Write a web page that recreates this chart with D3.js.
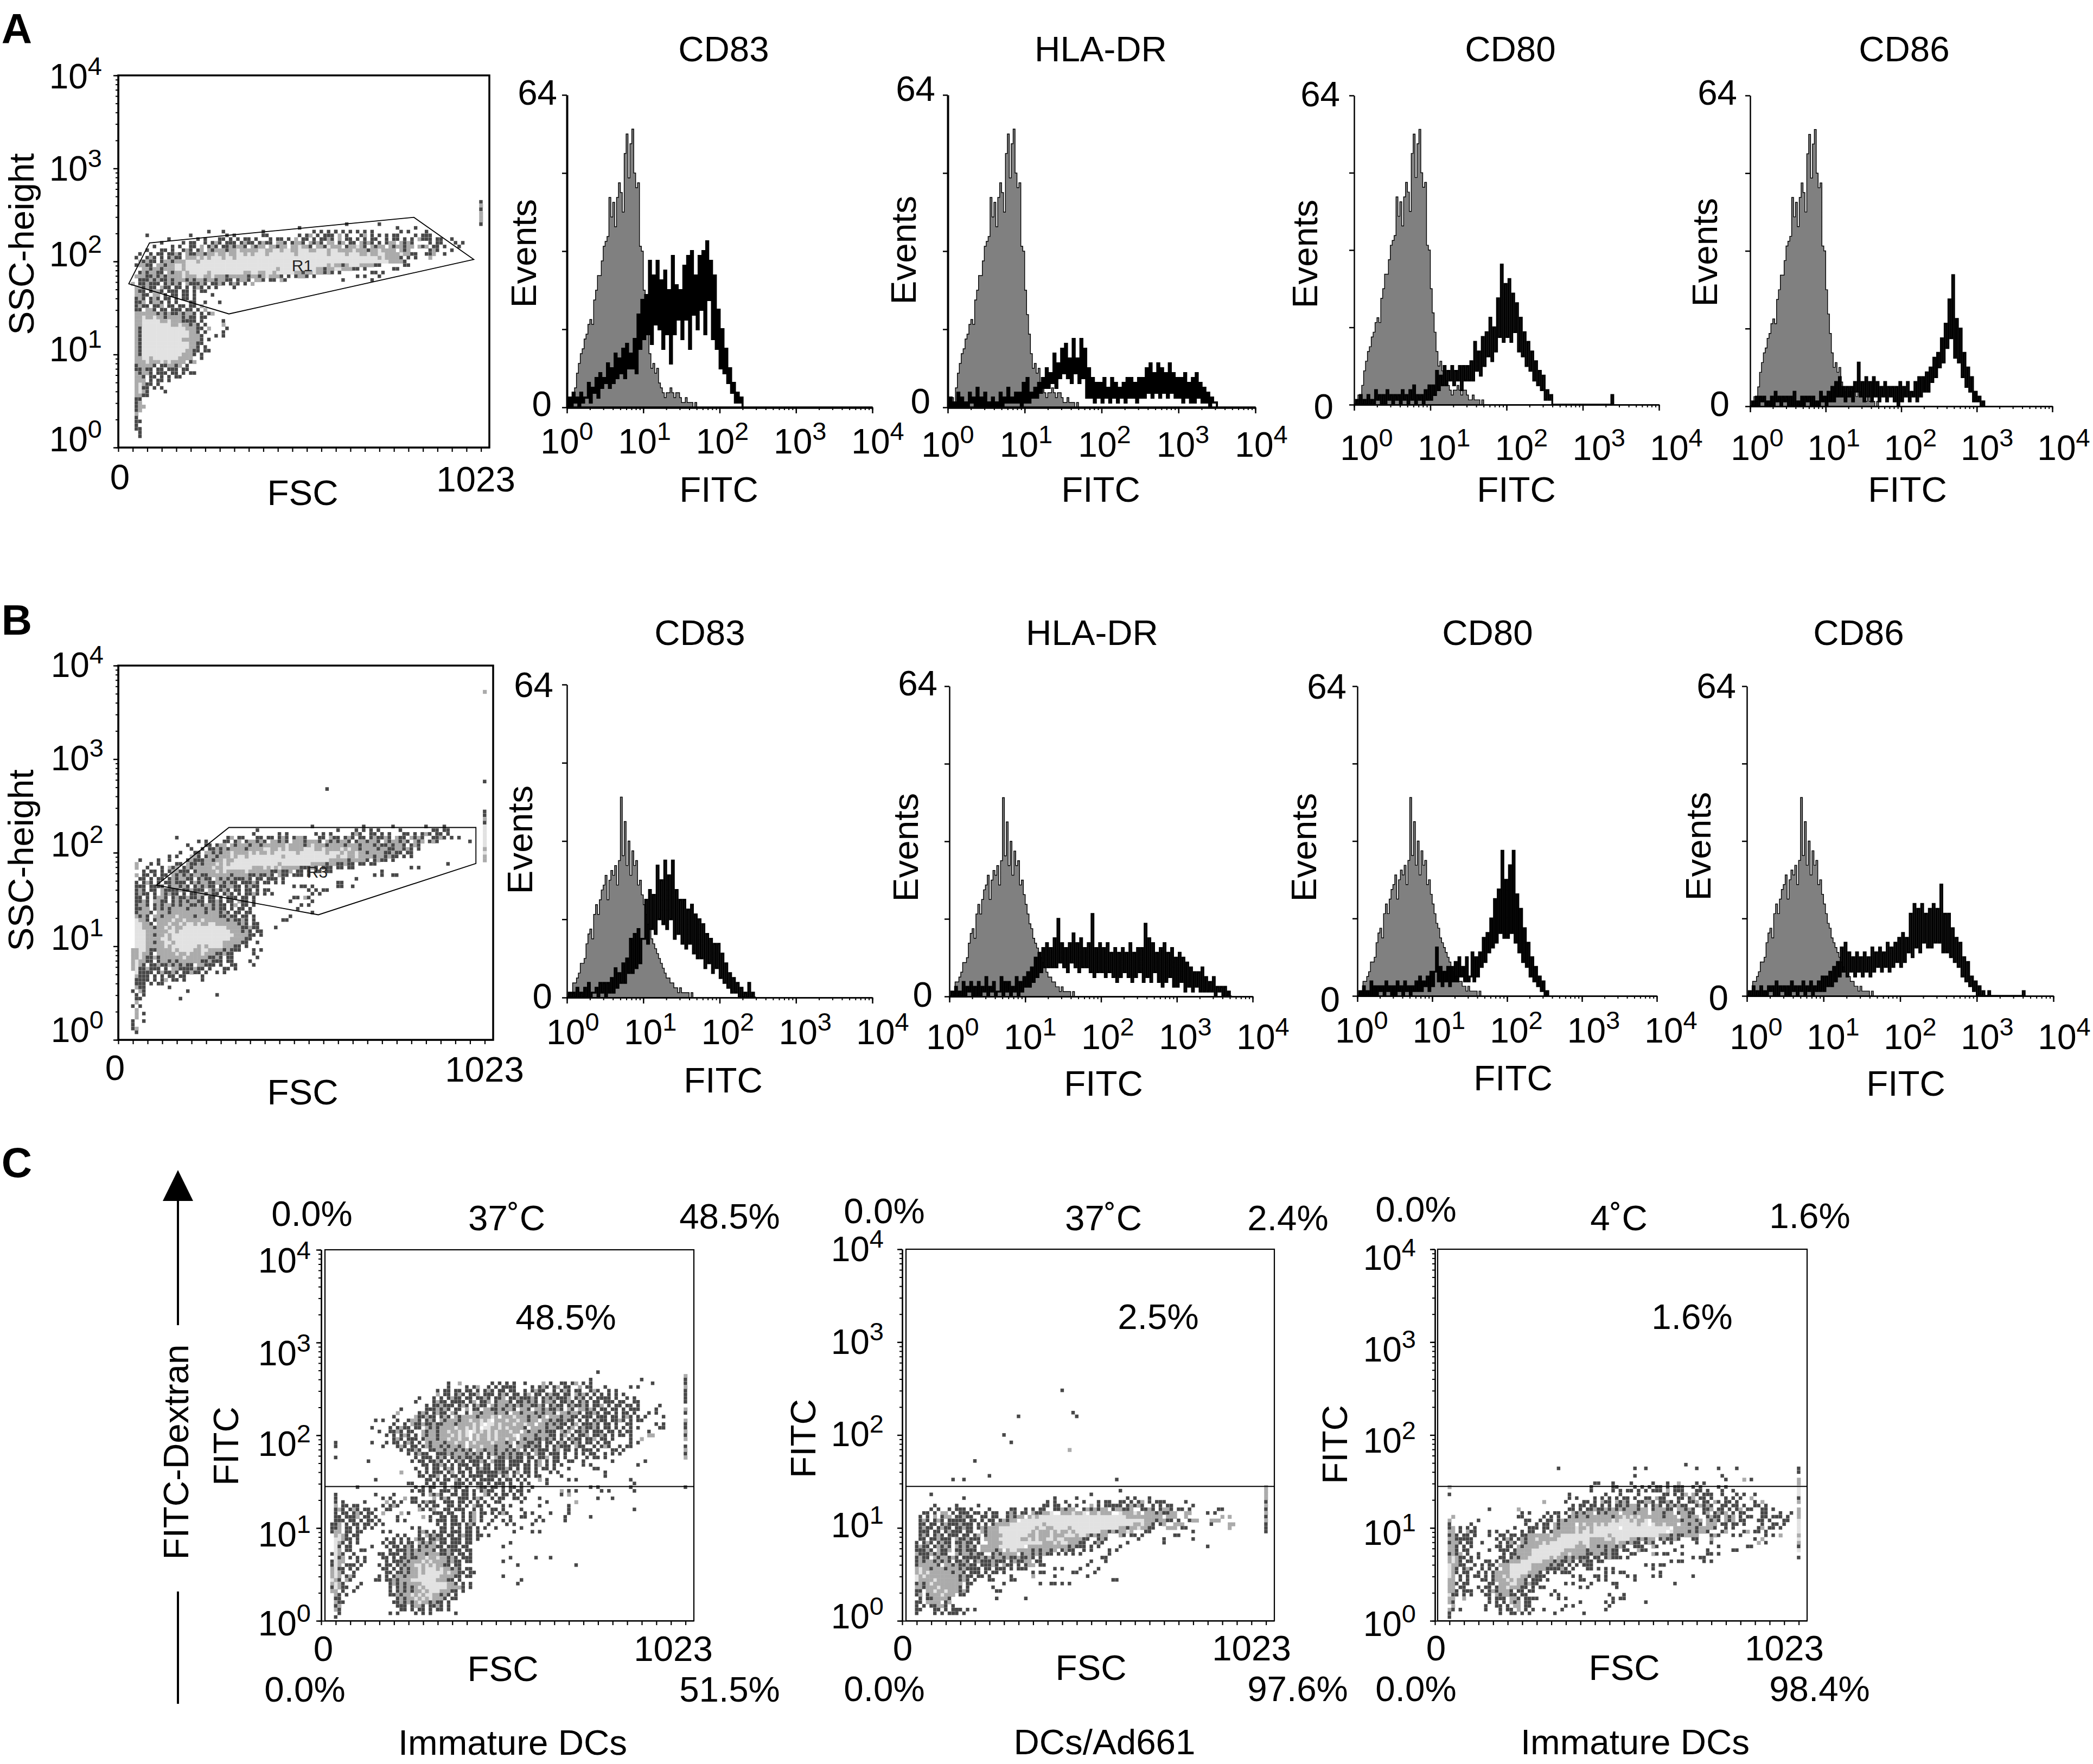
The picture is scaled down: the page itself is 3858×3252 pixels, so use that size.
<!DOCTYPE html>
<html><head><meta charset="utf-8">
<script src="https://cdn.jsdelivr.net/npm/d3@7"></script>
<style>html,body{margin:0;background:#fff}svg{display:block}text{font-family:"Liberation Sans",Arial,sans-serif;fill:#000}</style>
</head><body><svg id="c" width="3858" height="3252"></svg>
<script>
// Histogram channels: one value per 1/40 of a decade, event counts 0-64
const grayA=[0,1,2,1,4,7,9,11,12,14,15,17,18,17,22,24,27,27,30,33,34,35,43,39,42,37,43,46,44,40,52,56,47,54,57,48,45,46,33,32,24,19,15,11,8,9,7,8,5,4,3,2,3,3,4,3,2,3,3,2,1,1,2,1,1,1,0,1,0];
const grayB=[0,1,1,3,3,4,5,7,7,8,11,13,14,12,17,19,17,20,22,23,25,20,24,26,25,27,23,28,41,29,36,27,32,25,30,27,28,23,24,21,19,17,15,14,12,11,10,9,8,7,6,5,4,4,3,3,2,2,1,2,1,1,1,1,0,1,0];
const blackA83=[0,2,0,3,1,2,0,3,1,2,2,5,1,4,3,6,2,7,4,6,5,9,4,8,5,11,6,10,7,12,6,13,8,11,8,14,7,19,12,22,14,23,15,30,13,27,17,30,16,26,12,28,15,24,9,31,15,25,18,24,14,29,18,31,12,32,19,27,16,31,20,32,15,34,22,30,14,27,12,20,8,16,7,12,5,8,3,5,1,3,1,2,0];
const blackADR=[0,2,0,1,0,3,0,2,0,1,0,3,1,2,0,4,0,2,0,3,0,1,0,2,0,1,0,3,0,2,1,4,1,2,1,3,1,3,0,5,1,6,1,3,2,4,2,5,3,6,4,8,4,7,5,11,4,9,6,12,7,13,6,10,5,14,7,10,5,14,6,12,2,8,2,6,1,5,2,5,1,6,2,4,1,6,2,5,1,4,2,5,1,6,2,6,2,5,1,6,2,6,2,8,3,9,2,7,3,9,2,8,3,7,2,9,3,7,2,6,2,6,1,7,2,5,1,6,1,7,2,5,1,4,1,3,0,2,1,1,0];
const blackA80=[0,1,0,2,0,1,0,2,0,1,0,3,1,2,0,2,0,3,1,2,0,2,1,2,0,3,1,2,0,3,1,4,0,2,1,2,0,3,1,4,1,4,2,7,3,6,4,8,4,7,5,8,4,7,5,8,3,8,5,8,5,9,5,13,7,11,6,14,8,15,10,18,9,16,11,22,14,29,13,25,14,26,13,23,15,21,11,18,10,15,8,13,7,11,5,9,4,7,3,6,1,3,1,2,0,0,0,0,0,0,0,0,0,0,0,0,0,0,0,0,0,0,0,0,0,0,0,0,0,0,0,0,0,0,0,2,0];
const blackA86=[0,1,0,2,0,2,1,2,0,1,0,2,0,3,1,2,0,2,1,2,0,2,0,3,0,1,0,2,0,2,1,2,0,2,0,1,0,3,1,2,0,3,1,4,1,5,2,6,2,4,1,4,2,4,1,5,3,9,2,5,1,6,2,5,1,6,2,5,1,4,2,5,1,4,2,4,1,4,0,5,1,4,2,5,1,3,2,5,1,6,2,6,3,7,3,8,5,10,6,11,8,14,9,17,12,22,14,27,10,18,9,16,6,11,4,8,3,6,1,3,1,2,0,1,0];
const blackB83=[0,1,0,1,0,2,0,1,0,2,0,3,0,1,1,2,0,3,1,3,0,3,1,4,1,6,2,5,3,7,3,8,5,12,5,13,6,14,7,12,12,20,11,22,14,21,13,27,16,24,15,28,14,25,16,28,12,22,13,20,11,20,10,18,11,19,9,17,8,16,8,15,6,13,7,12,5,11,6,11,4,9,3,7,2,5,1,4,1,3,0,2,0,1,0,3,0,1,0,0];
const blackBDR=[0,1,0,2,0,1,0,3,0,2,1,3,0,2,0,3,0,2,1,4,0,2,1,3,0,1,1,4,0,3,1,3,0,2,1,4,0,3,1,4,2,5,2,6,3,8,4,9,5,10,6,11,6,10,6,12,6,16,7,11,6,10,5,11,7,13,6,11,5,12,6,10,6,11,5,17,4,10,5,11,5,10,4,11,5,9,4,10,3,9,4,10,5,9,4,11,3,9,4,10,5,10,3,15,4,12,3,11,5,9,3,10,2,11,3,9,4,10,2,8,2,9,3,8,1,7,2,6,1,5,2,5,1,6,1,4,1,3,1,4,0,2,1,2,0,2,0,1,0,0];
const blackB80=[0,1,0,2,0,1,0,3,0,2,0,2,1,2,0,3,1,2,0,2,0,3,1,2,0,3,1,2,0,2,1,3,1,4,1,3,2,4,1,5,2,5,10,3,6,2,5,3,6,2,6,3,7,3,8,4,6,3,8,3,4,9,3,8,4,9,6,12,7,13,9,16,10,20,11,22,13,30,12,24,12,27,13,30,11,21,9,18,7,14,6,11,4,8,3,6,2,4,1,3,0,1,0];
const blackB86=[0,1,0,2,0,1,0,2,0,1,0,2,1,2,0,3,0,2,1,2,0,2,0,3,1,2,0,2,1,3,0,2,1,3,0,2,1,3,1,4,1,4,2,5,2,6,3,7,4,10,5,11,4,9,5,8,4,9,5,8,4,9,5,8,4,10,5,9,6,10,5,9,6,11,5,10,6,11,7,12,6,13,7,12,9,17,8,19,10,18,9,19,11,17,10,18,10,19,11,18,11,23,9,17,9,17,8,14,7,12,6,11,4,8,3,7,2,4,1,3,0,2,0,1,0,0,1,0,0,0,0,0,0,0,0,0,0,0,0,0,0,0,0,0,1,0];

// Dot plots read cell by cell: row number (1 row = 0.04 decade), then col:cells (1 col = 10 FSC channels). d dark, m mid, l light
const scatterA=["66 100:d","65 100:m","64 100:d","63 100:m","62 100:m","61 100:m","60 63:d 72:d 100:d","59 50:d 77:d 82:d",
"58 25:d 29:d 40:d 54:d.d.d.d 60:d.d 64:d.d.d 70:d 78:d.d 85:d",
"57 8:d 20:d 30:d.d 40:dd 50:d.dm.d.dd 59:d.m.d 67:dm.d.d 74:d.dd 82:d.d 85:dd",
"56 14:d 22:d.d 28:dd.d 33:d.dd.d 42:d.dd.d.m.dd.d.dd 57:dmd.m.dd.d.d.dd 74:d.dd.d 81:d.mddd.dd 92:d",
"55 12:d 18:d.dd 24:d.dmd.d 31:dd.dmdd.d 40:mdd.mmd.dmmd.mdmd.mm.dm.dd.mdmd.d.dmm.mdmd 86:d.dd 93:d.d",
"54 10:d 15:d.d 20:dd.m 25:dmd.dd 31:mdmmd.mdmm 42:mmdmm.mmlmmd.mmdlmmm.dmmlmd.mdmm.mdmmdmm.mdm.d 88:d.d 94:d",
"53 8:d 12:dd.d 18:dmd.dm 25:mdmmmdmmlmmm 37:mmllmmllmllmmlllmmlllmllmmmmlmmmdmmlmmmm.mdm 86:dmd 92:d",
"52 6:d 9:d.dd 14:ddmd.mdd 22:mmdmmlmmlmmllmlmlllmlllllllmllllllllmllllmlllmmlmmllmmmmlmmdd 85:ddm 90:d",
"51 5:d 8:dmd.d 14:dmdd.mmmlmlmlllmllmlllllllllllllllllllllllllllllllllllllllmlmmmmd.d.d 86:m",
"50 6:mdmdd.dmmdmmmlllmllllllllllllllllllllllllllllllllllllllllllllllllllllmmmmd",
"49 5:dmmdd.mmdmmllmlllllllllllllllllllllllllllllllllllllllmlmmdmlllmmmmdd 79:dd",
"48 7:mmdmmdmmmllmlllllllllllllllllllllllllmllllllllllmmdmmllmmmdd.d 76:dd",
"47 6:dmdmmdd.mdmmlmlllllmlllllllllmmllmmllmlllllmmdmmlmmdmd.d 70:dd.d",
"46 5:mmmddmdmdmmmmlmmmllmmlmmmdmmmmmdmmdmlmmmd.d.dmmd.d 66:d.d 72:d",
"45 6:dddmdmddmdmmmdmdmmdmmdmmdd.dmmd.mmd.dd.md 62:d 70:d",
"44 4:m.ddmddd.dmdmd.mdddmd.ddmd.dmd.d.m",
"43 5:mmdmdd.mdd.dd.d.dmd.d.d 32:d","42 5:mdd.dmmd.ddd.dd.d.dd","41 5:mmdd.mm.d.dd.dd.d 26:d","40 5:dmd.dmd.dd.d.dd.d",
"39 5:ddm.dmmd.d.d 20:dd 24:d 28:d","38 5:dmdd.ddm.dd.dd.dd.m","37 5:dd.mmd.dd.ddd.dd.d.m","36 5:mmmmmmdmdmddmdmmd.d.d 26:m",
"35 5:mmlmmlmmdmmmmdmdd.dd","34 5:mmlllllmmlmmmdddd.d 29:d","33 5:mmllllllllmmlmmdmd.d 29:m","32 5:mdllllllllllllmmmdd.m 30:d",
"31 5:mdlllllllllllllmmd.d 29:d","30 5:mdlllllllllllllmmmd 27:d.d","29 5:mdlllllllllllmmmmmd.d","28 5:mdlllllllllllllmmdd",
"27 5:mdlllllllllllllmmd 24:d","26 5:mdllllllllllllmmdd 24:dd","25 5:mdlllllllllllmmmd 23:d","24 5:mmllmlllllllmmmm 23:d",
"23 5:mmmlmmmlmlmmmm.dm","22 5:dmmmmd.ddmmdm.d","21 5:ddmdd.dd.ddd.dd","20 5:mdmmd.ddd.dd.d 20:dd","19 5:mmd.dd.d.d.dd","18 5:mmm.d.dd.d",
"17 5:mlmdd.d","16 5:mldd.d 12:d","15 5:mlmd 13:d","14 5:mmdd","13 5:dd","12 5:dm","11 5:dm 7:m","10 5:dm","9 5:m","8 5:d","7 5:dd","6 5:d","5 5:dd","4 6:d","3 6:d"];

const scatterB=["93 100:m","69 100:d","67 57:d","61 100:d","60 100:d","59 100:m","58 100:d","57 53:d 67:d 75:d 84:d 89:d 100:l",
"56 38:d 60:d 65:d.d 69:d.d 77:d 86:dd.d 90:d 100:l","55 37:d 44:d.d 54:d.d.d 64:dmd 69:dd.d.d 78:dd.d.dmd.dd.d 100:l",
"54 16:d 30:dm.dd 38:dd.dd.dmd.dmmd 55:dd.mdd 62:dmd.dd.dmd 72:dmd.mdd.mdmd 86:ddmd.d 93:d 100:l",
"53 22:d.d 29:dd.dm.dmmdmd.mmdmd.mmmdmmmd.mdmdmmd.dmmdmmd.mdmmdmd.mdm.dmd 96:d 100:l",
"52 19:d 24:dd.dmm.mdmmmdmmdmmmmmmlmmmmdmlmmmdmmmmdmmmdmmmdmddmdmmd.dmd 100:l",
"51 20:d 23:d.ddmdmdmmmmdmmmmllmmlmlmmmmlllmmlmmmmlmlmmdmmmmdmmddmmdmd.d 100:m",
"50 17:d 21:dd.mmdmdmmlmmmmlmlmmlmllllllmlllllllmlllmlmmlmmdmmmmddmdd.dd 100:l",
"49 14:d.d 20:mmd.dmmdmmmlmllmlllllllllmllllllllllllllmllmmlmmmmdmmdmdd.d.d 100:m",
"48 6:d 11:d 14:d 19:dmdddmmdmmlmmllllllllllllllllllllllllllmmmmmdmmmmd.dmdd.d 100:m",
"47 5:m 9:d.d 16:dd.mddmdmmmlmlmlllllllllllllmllllllllmmmmdmmddmdd.dd.dd 90:d",
"46 5:m 8:d 12:d.mdm.dmdmmmmmlmmllllllllmmmlmlmlmmmmmdddmd.ddd.dd.dd 80:d.d",
"45 7:d.dd.d.dmmddd.dmmmmmlmlmmmmmlmmmmmmddmddm.dd.d.dd.dd 72:d",
"44 5:m.dd.d.dd.mdmdmdmmddmmmmmmdmmmmddmddmd.mdd.ddd.d 70:d.d 75:dd","43 6:dd.d.dd.dmdmmdd.dmdd.mdmdmdddmd.dd.ddd.d 65:d",
"42 5:d.dmd.d.ddmddd.dmdmmddmmdmdd.dddmd.dd.d.d 60:dd","41 5:ddd.dddd.dmmdmd.dmdmdd.ddmmdd.dmdd 48:d.dd.d 60:dd 64:d",
"40 5:dmd.dd.mddddmddmddd.mdmdmd.dd.dd.d.dd 52:d.d.dd","39 5:dmdd.d.mdmdd.d.ddmmdmdd.dmd.d.ddmd.d.d 53:d.d",
"38 5:dd.d.dmmd.dmddmddmd.dd.d.ddd.dd.d 48:dd.md","37 5:ddmd.mmdd.dmdmdmmdd.ddmd.dd.mdd.d 47:d 53:d",
"36 5:dmmd.dmdmmdmdmmddmdmmdmdd.dm.dd.d 50:d.d","35 5:ddmm.dmdmdmmmmdmmmmdmdmdd.d.dd.d 49:d",
"34 5:dmmmd.mmmdmmmmmmmmmdmmmdmd.dd.dd 53:d","33 5:mdmd.mmdmmmlmmmmdmmmmmmddmdd.dd.d 47:d","32 5:lmmd.dmmmmlmmlmmmmlmmmmmmdmddmd.d 45:dd",
"31 5:llmmd.mmmlmmlmllmlmmllmmmmmmdmd.dd","30 5:llmmmdmmlmlmmllllllllllllmmmmddmdd 43:d","29 5:lllmmmmmmllmllllllllllllllmmmdmd.dd",
"28 5:lllmmdmmlmlllllllllllllllllmmmmdd.d","27 5:lllmmmmllmllllllllllllllllmmmmdd","26 5:lllmmdmmllmlllllllllllllmmmmmdd 38:d",
"25 5:lllmmmmmlmlllllllmlmllllmmmdd.d","24 4:mmllmddmmmmlmllllmmllmmmmdmddd 37:d.d","23 4:mmlmmd.mmmmmlmmlmmmlmmmddmdd 37:d",
"22 4:mmlmddmdmmmmmmlmmmmmmddmd.dd 38:d","21 4:mlmmdd.dmmdmdmmmmmmddmddd.dd 36:d","20 4:mlmd.ddmddmdmdmdd.mmddd.d 31:dd 37:d",
"19 4:mlddmddd.d.mmddddmdd.d 29:dd.d","18 5:ldddd.dmddmd.ddmdd.d 27:d.d","17 5:mddd.d.d.dd.dd 23:d","16 5:dddd.d.dm.dd.d 23:d",
"15 5:ddd.d.dd","14 5:mdd 14:d","13 4:d.md 19:d","12 5:d.d 27:d","11 5:dd 17:d","10 5:m","9 4:d 6:d","8 5:m","7 5:m 7:d","6 5:m","5 4:d 7:d","4 4:d","3 4:dm","2 5:d"];

const scatterC1=["67 76:d","66 100:m","65 74:d 88:d 100:d","64 35:d 38:m 47:d.d 51:d.d 56:d 61:m.d 66:dd.dm 72:d.d 91:d 100:d",
"63 35:d 40:d.dm 46:d.d.dd 52:dd 58:d.dmd 64:dm.dd 71:m.dd 78:d 85:d.d 100:m",
"62 32:d.dd.dd 40:dd.d.dmd.dd 50:d.dd 56:d.dmdd 64:d.dmd.d 71:d 74:dmd 79:d 81:d 100:d",
"61 32:m.dd 37:dmd.ddm.dd 47:d.dmd.dd 56:dm.dd.dmd 65:d.dd.mdm 73:d.d.d 79:d.d 83:d 100:d",
"60 27:d 31:d.d.dmdd.dd 43:ddmd.ddm.ddmdd 57:dmd.dmdmd 66:ddm.dmd.d.dd 78:dd.d 84:d.d 100:d",
"59 26:d 31:dmdd.dddd.dm 44:ddm.dmmmd.ddmd 58:md.dmmd.ddmd 71:dmd.dd.dd 80:d.dd 86:dd 100:d",
"58 29:d.ddmddd.dmd 42:dmdd.mdmmdmdm 55:dmmddmd.dmdd 68:dmddmd.ddm.d 81:dd.d 85:d.d 93:d",
"57 22:d 29:dddmdmd.dd.m 42:dd.mmddmdmmd 55:mmd.mmdmddmd 68:md.mmdmd.dd 80:dd.d.dd 87:d 92:d 100:m",
"56 21:m 27:dmd.dmdd.md 40:d.mmdmmmdmmd 53:mmdmmmdmdmmd 66:mmdmmd.ddmd 78:dd.d.dd.d 90:d.d 100:d",
"55 20:d 26:mddmdd.dmd 37:mdmmmmdmmmlm 50:mmmlmmmdmmdm 63:mmmdmmdd.ddd 76:ddd.dd.dmd 87:d.d 94:d",
"54 15:d.d 21:d 24:dmmd.dmd 33:mdmmmdmmlmmlml 48:mmmlmmlmmdmm 61:mmdmddmdd.d 73:d.dmdd.ddmd 85:d.dd 100:m",
"53 20:d 23:d.mddmdd 31:mddmmmdmmmmlml 46:llmlmmmlmmlmm 60:mmdmdmdd.dm 72:dddmd.dd.d 84:dd 92:d.d 100:d",
"52 14:d 19:d.dmdd.dd 29:mdmdmmmmlmmlmlm 45:llmmlmlmmmmd 58:mmmmdmmdd.dm 71:dmddmd.dd 81:d.d 85:d.d 93:dd 100:d",
"51 16:d 19:ddmd.dd 28:mdmmdmmlmmlml 42:lmlmlmlmmmlmm 56:mdmmdmddd 66:mdm.ddmd.ddd 79:dd.d.dd 90:d 100:m",
"50 18:d.d.dmd.d 28:mdmmdmmmlmlml 42:mlmmlmlmmmml 55:mmmmdmmmdd.dm 69:d.ddm.ddmd 80:d.dd 85:d 90:mm 100:d",
"49 20:dmd.ddd 28:dmmmdmmlmmlmm 42:mlmmlmlmmlmm 55:mdmmddmdmd 66:d.dmdd.ddm 77:dd.d 85:d 88:m 100:m",
"48 4:d 14:d 18:d.dd.dmd 27:d.mdmmmdmmlmm 41:mlmmmmlmmmdm 54:dmmddmd.dd 65:dmd.dmd.dd 76:d.dd 85:d.d",
"47 4:d 17:d 21:dmd.dd 28:dmdmmdmdmmdm 41:mmmlmmmdmmmd 54:mmddmdd 62:d.dmddd.mdd 75:d.dmd 82:d.dd 100:d",
"46 22:d.ddmd 30:ddmmdmmdmdmd 43:mmdmmdmmdmdm 56:d.dmddd.dm 67:dd.d.ddd 76:d 80:dd.d 100:m",
"45 24:d.dmdd 32:dddmdmmmdmdmd 46:dmdmdmdmddmd 59:mdd.ddd.d 70:d.d.dd 78:d.d.d 100:d",
"44 4:d 26:d.ddd.dmd 36:dmdmddmdd.d 48:mddmdmdd.dd 60:ddm.dd.d 70:d 73:d.dd.d 100:m",
"43 13:d 25:d.dd.ddmd 35:d.dmd.dddmd 47:mddd.dddd.d 59:dm.d.dd 68:dd 72:d 80:d 89:d",
"42 28:dd.ddmd 36:d.ddd.dd.dd 48:ddd.ddd.dd.dm 62:d.d.d 72:d.d 87:d",
"41 26:d 29:d.dd.dmd 38:d.dd.dmdd.dd 50:dmd.d.dd.d 61:dd.d 68:d 75:dd",
"40 22:m 27:d.d.ddd 35:dm.dd.d.dddd 47:ddmdd.dm 56:dd.d 63:d.d 78:d",
"39 27:dd.ddm.d 36:dd.d.dddd 46:ddd.dm.d.d 57:d.dd 66:d 78:d",
"38 15:d 29:dd.d.dd 37:md.d.d.dddd 49:d.dd 54:d.d 60:m.d 68:d.d 85:d",
"37 24:dd 29:d.d.dd 37:ddd.d.dd 46:d.ddd.d 55:d.d 62:d 86:d",
"36 10:d 26:d.d.dd 34:d.mdd.d 43:mdd.dd 50:d.dd.d 58:d 74:d.d 85:d 100:d",
"35 25:d.dd.d 33:ddd.d.dd 42:d.dmdd 50:d.d.dd 57:d 66:m.d 70:d 77:d.d 86:d",
"34 4:d 15:d 20:d 28:d.mdmd 36:dd.dd.d 45:md.d.dd 53:d.d 66:d.m",
"33 4:d 17:d.d 23:m.dd 31:m.dmd 38:ddd.dmd 47:d.dd 53:dd.d 60:d 76:d 80:d",
"32 4:d.d 12:d 18:m.d.d 25:dd.dmdd 34:ddd.dd 41:d.d.d 48:dd 55:d 62:d 70:m",
"31 4:m.dd.dd 17:d.dmd 27:d.d.dd 35:dd.d.d 42:mdd.d 50:d.d 60:d 68:d",
"30 4:dmd.dmd.dd.d 18:dd 27:md.dm 34:dd.ddd 42:d.d 47:dd.d 55:d 68:d 86:d",
"29 4:d.dd.dmd.dd 17:m 22:m.d 31:ddd.dd 39:d.dm.dd 47:d.dmd 56:d.d 63:d 68:d",
"28 4:dd.dddm.dd.d 21:d 28:m.d 33:dd.dd.d 41:dm.d 48:d 52:d 55:dd 60:d 67:d 74:d",
"27 4:ddd.dd.d.dd.d 21:d.d 30:d.ddd.dd 39:d.dm.d 47:d 50:d.d 59:d.d 67:d","26 3:ddm.d.dd.dd 15:d.d 32:d.d.ddd.dmd 46:d 51:d.d 58:d","25 3:ddm.dd.d.d 14:d 25:d.d 33:dd.d.d.dd.d.d 48:d 55:d",
"24 3:dmm.dd.dd 17:d.d 27:dmd.d.dd.ddd.dd.d 53:d 58:d.d","23 4:mlmd.dd 21:d.d 27:d.mdmdd.dd.dmdd.dd.d","22 4:llmdd.d 18:d.d 22:d.d.mdd.ddmdd.ddd.dd.d",
"21 4:lmd.d 10:d 17:d.dd 22:d.dd.mdmdm.dd.ddd.dd 52:d","20 4:ld.dd 14:d 18:d.dd 23:dmd.dmdmmdd.ddd.dd 50:d",
"19 4:lm.dd 11:dd 19:d.dddmdmdmmmd.ddmddd.dd","18 3:dlmd 9:d 16:dd.ddd.dmdmmmdmmmddmd.dd.d","17 4:ldm.d 10:d.d 17:dd.d.ddmddmmlmmlmmdmd.ddd 52:d 59:d 63:d",
"16 3:dlmm 10:d.d 18:d.dddmdmmmlmlmmmmdmdd.dd 50:d","15 3:dlm.dd 9:d.d 16:d.dd.dmdmmllmlmlmmdd.dd 54:d 70:d","14 3:mldd 8:d.d 17:dd.d.dmdmmlmlllmlmmdmd.dd",
"13 3:mlmd 9:d 18:dd.ddmdmmlmlllllmlmmdd.dd","12 3:mlm.dmd 16:d.d.dmmdmmmllllllmmmmdd.dd 50:d","11 3:lmd.md 15:dd.ddmdmmmlllllllmmmdd.d 55:d",
"10 3:mlmd 11:d 19:dmdmdmmmmlllllllmmd.d.d 54:d","9 3:dlmdd 10:d 19:d.dmdmdmlmllllllmmmmd.d","8 3:mm.d 9:d 19:d.dmdmdmmlmlllmmmdd.d","7 4:md.d 19:ddmdmmlmlmllmmdmd.d",
"6 4:dd 21:dmdmmlmlmlmmmd.dd","5 4:mdd 20:ddmdmdmlmmdmdd.d","4 4:dm 21:ddd.dmmd.ddmd.d","3 4:md 22:dd.d.dd.d.dd.d","2 5:d 19:d.d 26:d.d.d 37:d","1 4:d"];

const scatterC2=["62 44:d","56 47:d","55 32:d 48:d","50 28:d","48 30:d","46 46:m","43 20:d","39 24:d","38 14:d 17:d 59:d","36 100:m","35 60:d 100:m",
"34 8:d 52:d 100:m","33 17:d 42:d 48:d 62:d.d 68:d 100:m","32 40:d.d 45:d 50:d 54:d.dd 60:dd.d.dm.d.dd 72:d 78:d 100:d",
"31 9:d 15:d 21:d 39:dd.dd 46:d.d 52:m.d.ddddd.dmdmd 69:d.d 73:dd 80:d 100:m",
"30 8:d 10:d 13:d.dd 17:d.d 24:d 30:dd 34:d.d.dd 42:ddmdmm 50:dmdmdmm 58:dmmddm 66:ddmd.dmmd 76:dd.d 87:dd 100:d",
"29 6:dd.d.mm.d.d 17:dd.dd.d 25:dd 29:dmd.dd 36:mddmml 44:mmmlmml 52:mmlmmm 60:lmmmlm 67:mmmdmddmm 78:mm 84:d.d 100:m",
"28 5:d.d.m.dmm.d 16:dmdd 22:dd.dd 29:dmdmm 35:mlmlllll 43:llllllll 51:llllllll 59:lllmmmm 66:mmmmmm.mmm 78:m 88:m.m 100:d",
"27 5:dmd.dmd.dd 15:ddd.dd.d 24:dd 27:dmdmm 33:llllllll 41:llllllll 49:llllllll 57:llllllll 65:llmmm 70:dmmdd.d 79:dmm 85:mmm 100:m",
"26 5:dd.dd.dmddd 16:mddd.d.d 25:dmm 28:mmllllll 36:lllmllll 44:llllllll 52:llllllll 60:llllmm 66:lmmd.dm 75:mmm 85:d 90:mm 100:d",
"25 5:dmdd.dmdd 15:ddmdd.dm 23:dmmm 27:llllllll 35:llmllmml 43:lllmllll 51:llllllll 59:lmmdmm 65:lmmdd 73:mmm.dd 90:m 100:d",
"24 5:ddd.dd.dm 14:ddd.dd 22:mdmmm 27:llllllll 35:lmlmmmlm 43:lmmlmlll 51:llllmmdm 59:dmmlm 67:dd 80:d 100:d",
"23 5:dmd.dmd.dd 15:d.dd.dm 23:dmmmml 29:llllllmm 37:lmmmlmmm 45:lllmllm 52:dmdmm 60:md.dd 66:d 75:dd",
"22 5:dd.ddmddd 15:mddmddd 23:mmmml 28:lllllmml 36:mlmmllml 44:lmmmmmdd 54:dmd 65:d 72:d 80:d",
"21 4:d.dmd.dmdd 15:ddmdd.d 24:mmmml 29:lllllll 36:lllmmmlm 44:llmmmdd 53:dmd 62:d 72:d",
"20 4:dmdd.dmdmd 15:mdmdmd 22:mmmmml 28:llllll 35:mmmmmmm 42:mmmmdmddd 52:d.d 60:d 84:d",
"19 4:dddmd.mddm 15:ddmddd 22:mmmmdm 29:mllmmmm 36:dmdmmdm 44:dmdd 50:d.d 57:d.d",
"18 4:mdddmdmdd 15:mdmmdmdd 25:dmdmmmm 33:dmmdmdmdd 43:d.d 47:d.d 57:d",
"17 4:dmdd.mdmmdmd.dddddmdmdmmdmddmddmd.d 55:dd","16 4:dmdmmdmdmd.ddmd.dmdddmddd.dmddmm.dd 52:d 56:d",
"15 4:dmmmmmd.mmdmddmdd.dddmd.mdd.d.dmm.dd 51:d","14 4:mlmmdmmmdmmmdmdddd.dd.ddd.d.ddd 42:d.d 49:d 54:d","13 4:mlmlmmmmmmdmmd.ddd.d.dd.d 36:d.dd 47:dd 53:d",
"12 4:lmlmmmmmmmmmdmdd.dd.d 30:d 36:m 42:d 51:d","11 4:lmmmmlmmmmmmdmd.d 24:dd 30:dd 58:dd","10 4:dmdmlmmmmmmmm.dd 28:d 38:d 41:dd 44:d.d",
"9 4:mmdmmmlmmmmmd.d 25:d","8 4:dd.mmlmmlmmmdmd 26:dd","7 4:dm.dmmmlmmm.dd","6 5:d.ddmmmmd 26:d 34:d","5 4:dd.mmmm.dm","4 4:d.d.ddmmd.d","3 4:dd 9:dd.d.dd 15:dd.d.d","2 4:d 9:d.d.d 14:dd.d"];

const scatterC3=["42 69:d","41 34:d 55:d 58:d 72:d 78:d 83:d 100:d","40 100:d","39 55:d 79:d","38 80:d 85:m 87:d 100:m","37 44:dd 49:d 54:d 60:d 64:d 67:m 72:d.d 100:m",
"36 4:m 43:d 49:dd 55:d.d 59:d.dd.d.ddd 71:d.d 78:d.d 100:l",
"35 43:d 49:d.d.dd 56:d.d.ddd 64:m.ddd 72:dd.d 79:d 82:d 100:l",
"34 4:d 37:d 47:d 51:d 56:d 63:dd.d.dm 71:md.ddd 79:d 83:d.d 88:d 100:l",
"33 37:d 39:d 44:d 46:d.d 50:d.dd.d 58:dd.mdd 67:dd.dm 73:dd.d 80:d.d 84:d 87:m 100:d",
"32 30:m 36:d 41:dd.d.md 48:d.mdmd 56:ddmmd 62:ddmd.d 70:ddm.dd 77:md.dd 83:d 88:d.m 100:m",
"31 38:d.dd.dd 46:d.d.dd 52:mdmmd 58:d.dmd 64:dmdmdd 72:dmdmd 79:dd.dd 85:d 88:dd.d",
"30 15:d 23:m 37:dd.d.ddm 45:ddmdmdm 52:dmmmdmm 60:dmmmdd 67:mmdmd 74:ddm.dd 81:d.dm 86:dd 90:dd.d 100:m",
"29 24:d.d 31:d.dd.d 38:mdmdmm 45:dmdmmm 52:mmmdmmm 60:mmmdmm 67:dmmdd 74:dm.dmdm 82:d.dd 90:dd 95:d 98:d 100:m",
"28 5:m 23:dd 30:d.d.d 37:dmdmm 42:dmmmmmm 49:dmmlml 55:mlmmmm 61:mmdmmm 68:mmdmm 75:dmdd 80:mdm.d 86:dd 90:dd.d 94:dd.d 100:m",
"27 4:m 12:d 25:dd 29:d.dd 34:dmdmm 39:mmmmmmmm 47:mmlmll 53:lmlmml 60:mmmmmmmm 68:dmmmdm 75:mdmd 80:mdm.dd 89:dd.d 96:dd 100:l",
"26 4:d 10:d 25:d 28:d.dd 33:mdmmmm 40:mlmmlml 47:mlllll 53:lllmll 60:lmmlmmm 68:mmdmmd 75:mmm.dd 82:dd.d 90:d 93:dd.d 100:l",
"25 4:dm 7:d 9:d.d 22:d 26:ddd.dd 33:mdmmmm 39:lmmlml 45:llllll 52:llllll 58:lllllll 66:mmmmmmd 73:mmmmd 80:d.d 89:dm.dd.d 100:l",
"24 4:mm.d.mdd 15:d.d 20:d 24:d.dd 30:d.dmmm 36:mmmlml 42:lmll 46:llllll 52:llllll 58:llllll 65:lmmmm 70:dmdmmd 79:dm 85:dm.dd.d 100:l",
"23 4:dmd.dd.d 11:d 15:d 18:dd.dd 24:ddmmmm 30:mmlmml 36:lllll 41:llllll 47:lmllll 53:llllll 59:lllmmm 65:dmddmmmm 76:dmd 82:d.d 91:d.d.m 100:m",
"22 4:mmddd.d 9:d 17:d.dmd 23:dmdmml 29:mmmmml 35:lllll 40:lllmmm 46:mllml 51:lllmm 56:dmdmm 62:dmddmd 71:dd 76:m 88:d.m 100:l",
"21 4:dmmd.dd 13:d 18:d.dmd 24:mdmmmml 31:mlllll 37:lllmll 43:mmmmmm 49:mlmmdm 55:dd.dmd 63:d.d 72:d 76:d 89:m 91:d 100:m",
"20 4:mmd.d.d 17:dd.dd 23:mdmmmm 29:llllll 35:llllmm 41:mlmmdm 47:dmmdmd 55:ddd 60:md 68:d 78:d 86:dd 100:d",
"19 4:mmd.dd 15:d 18:ddd.dm 24:mmmlll 30:llllll 36:mmmmmmd 43:mmmmdm 49:dd.dd 56:mdd 66:d 75:d 82:dd 100:l",
"18 4:dmdm.d 12:d 19:d.ddm 24:mmmlll 30:lllll 35:mmlmmmm 42:ddmmdd 48:mdd 54:dd 60:md.dd 68:d 75:dd.d",
"17 4:mlmdd.d 12:d 18:dd.dmdmmllllllmlmmdmdmddd.dd.dmddd.d 71:d.dd 100:d",
"16 4:mlmd.dd 14:dd.d.ddmmmllllllmmmdmddmd.dmdd.dd 65:d.dd 74:d.d","15 4:lmmdd 11:d.d 15:dd.mmmllllllmmmmmdmdd.d.d.ddd 58:d.d.dd",
"14 4:lmd.dmd 13:d.d.d.mmllllllmmmmddddmd.d 42:dd.d.d.d 60:d","13 4:lmd.dd 12:d.d.dmmmmlllllmmmd.d.d.ddd 47:d.d.dd 62:d","12 4:lm.d.d 11:dd.d.dmmlmlllmmdmddd 38:d.d 44:dd.d 53:d.d 60:d.d 71:d",
"11 4:mm.d.d 13:dd.dmmmlmlmmd.ddd.d 40:dd 45:d.d 55:d","10 4:mmd.dd 15:dd.mmmllmmdmdd 36:d.d 43:d 49:dd 66:d","9 4:mm.dd 12:d.dd.dmmlmmmdd.d.dd 40:d.d 50:d",
"8 4:mmd.ddd 13:d.dmdmmmd.dd.dd 33:d","7 4:ldd.d.d 14:dd.mdmmdd.dd 32:d.d 48:d 52:d","6 4:mm 8:m 15:d.ddd.mmd.dddd 34:d.d 49:d.dd","5 4:md 15:d.d.d.mdm.dd 40:d 47:d.d 58:d",
"4 5:m 14:d 17:dd.d.mm.dd 36:d.d 48:d","3 4:md 7:d 14:d 18:d.dd.m.d.d 30:d 35:d 47:d","2 4:d 18:d 21:dd.d.d 33:d 41:d","1 4:d"];

// Gates as [FSC, SSC]
const gateA=[[29,57.5],[86,158],[815,298],[980,105],[305,27.3]];
const gateB=[[104,44.9],[302,186],[976,186],[976,76.6],[546,21.7]];
const fitcCut=28;
const decades=[1,10,100,1000,10000];
const countTicks=[0,16,32,48,64];

const svg=d3.select("#c");
function txt(g,x,y,s,o={}){
  const t=g.append("text").attr("x",x).attr("y",y).attr("font-size",o.size||65.5).attr("text-anchor",o.anchor||"middle").text(s);
  if(o.bold)t.attr("font-weight","bold");
  if(o.rot)t.attr("transform",`rotate(-90 ${x} ${y})`);
  if(o.fill)t.style("fill",o.fill);
  return t;
}
function pow10(g,x,y,n,anchor){
  const t=g.append("text").attr("x",x).attr("y",y).attr("font-size",64).attr("text-anchor",anchor||"middle");
  t.append("tspan").text("10");
  t.append("tspan").attr("font-size",47).attr("dy",-25).text(n);
}
function styleAxis(a,w){a.selectAll("path,line").attr("stroke","#000").attr("stroke-width",w);a.selectAll("path").attr("fill","none");}

// ---------- histograms ----------
const hists=[
 {t:"CD83",g:grayA,b:blackA83,x0:1045,x1:1608,top:175,bot:751,tx:1334,ty:113,fx:1325,fy:925,ex:988,ey:467,ly:836,d0:0,d4:10,n64:[1027,193],n0:[1017,767],w:4,lw:3.8},
 {t:"HLA-DR",g:grayA,b:blackADR,x0:1747,x1:2314,top:175,bot:751,tx:2029,ty:113,fx:2029,fy:925,ex:1688,ey:461,ly:842,d0:0,d4:11,n64:[1724,186],n0:[1715,762],w:4,lw:3.8},
 {t:"CD80",g:grayA,b:blackA80,x0:2496,x1:3058,top:176,bot:746,tx:2784,ty:113,fx:2795,fy:925,ex:2428,ey:468,ly:848,d0:23,d4:32,n64:[2470,196],n0:[2458,772],w:2.5,lw:3.4},
 {t:"CD86",g:grayA,b:blackA86,x0:3226,x1:3783,top:176,bot:749,tx:3510,ty:113,fx:3516,fy:925,ex:3165,ey:465,ly:848,d0:13,d4:21,n64:[3202,193],n0:[3188,767],w:2.5,lw:3.4},
 {t:"CD83",g:grayB,b:blackB83,x0:1045,x1:1608,top:1262,bot:1839,tx:1290,ty:1189,fx:1333,fy:2014,ex:981,ey:1548,ly:1925,d0:11,d4:19,n64:[1020,1285],n0:[1018,1859],w:2.5,lw:3.4},
 {t:"HLA-DR",g:grayB,b:blackBDR,x0:1750,x1:2309,top:1265,bot:1837,tx:2013,ty:1189,fx:2034,fy:2020,ex:1692,ey:1562,ly:1934,d0:6,d4:19,n64:[1728,1282],n0:[1719,1856],w:2.5,lw:3.4},
 {t:"CD80",g:grayB,b:blackB80,x0:2502,x1:3054,top:1265,bot:1836,tx:2742,ty:1189,fx:2789,fy:2010,ex:2426,ey:1562,ly:1922,d0:8,d4:26,n64:[2482,1288],n0:[2470,1865],w:2.5,lw:3.4},
 {t:"CD86",g:grayB,b:blackB86,x0:3220,x1:3785,top:1265,bot:1836,tx:3426,ty:1189,fx:3513,fy:2020,ex:3153,ey:1560,ly:1934,d0:17,d4:20,n64:[3200,1287],n0:[3186,1862],w:2.5,lw:3.4}
];
hists.forEach(h=>{
  const g=svg.append("g");
  const x=d3.scaleLog().domain([1,1e4]).range([h.x0,h.x1]);
  const y=d3.scaleLinear().domain([0,64]).range([h.bot,h.top]);
  const ch=(v,i)=>x(Math.pow(10,i/40));
  g.append("path").attr("d",d3.area().curve(d3.curveStepAfter).x((v,i)=>ch(v,i)).y0(h.bot).y1(v=>y(v))(h.g)).attr("fill","#808080");
  g.append("path").attr("d",d3.line().curve(d3.curveStepAfter).x((v,i)=>ch(v,i)).y(v=>y(v))(h.g)).attr("fill","none").attr("stroke","#000").attr("stroke-width",1.4);
  g.append("path").attr("d",d3.line().curve(d3.curveStepAfter).x((v,i)=>ch(v,i)).y(v=>y(v))(h.b)).attr("fill","none").attr("stroke","#000").attr("stroke-width",h.lw);
  const ax=g.append("g").attr("transform",`translate(0,${h.bot})`).call(d3.axisBottom(x).tickValues(x.ticks()).tickSize(5).tickSizeOuter(0).tickFormat(""));
  styleAxis(ax,h.w);ax.selectAll("line").attr("stroke-width",2);
  const axM=g.append("g").attr("transform",`translate(0,${h.bot})`).call(d3.axisBottom(x).tickValues(decades).tickSize(11).tickSizeOuter(0).tickFormat(""));
  styleAxis(axM,h.w);axM.selectAll("line").attr("stroke-width",2.5);
  const ay=g.append("g").attr("transform",`translate(${h.x0},0)`).call(d3.axisLeft(y).tickValues(countTicks).tickSize(9).tickSizeOuter(0).tickFormat(""));
  styleAxis(ay,h.w);ay.selectAll("line").attr("stroke-width",2.5);
  decades.forEach((d,n)=>pow10(g,x(d)+h.d0+(h.d4-h.d0)*n/4,h.ly,n));
  txt(g,h.tx,h.ty,h.t);txt(g,h.fx,h.fy,"FITC");
  txt(g,h.ex,h.ey,"Events",{rot:1});
  txt(g,h.n64[0],h.n64[1],"64",{anchor:"end"});
  txt(g,h.n0[0],h.n0[1],"0",{anchor:"end"});
});

// ---------- dot plots ----------
const cellColor={d:"#484848",m:"#ababab",l:"#e2e2e2"};
function cells(rows){
  const out=[];
  rows.forEach(r=>{
    const p=r.split(" "),row=+p[0];
    p.slice(1).forEach(seg=>{
      const [c,s]=seg.split(":");
      [...s].forEach((k,i)=>{if(k!==".")out.push({fsc:(+c+i)*10,ssc:Math.pow(10,row*0.04),k});});
    });
  });
  return out;
}
const plots=[
 {d:scatterA,ax:218,fl:218,fr:902,top:139,bot:825,fw:3.5,ly:[832,666,491,333,163],lr:188,yl:"SSC-height",yx:62,yy:450,z:[221,902],o:[877,906],f:[558,931],gate:gateA,gl:["R1",557,500]},
 {d:scatterB,ax:218,fl:218,fr:909,top:1227,bot:1917,fw:3.5,ly:[1921,1751,1579,1420,1248],lr:191,yl:"SSC-height",yx:61,yy:1586,z:[212,1991],o:[893,1994],f:[558,2036],gate:gateB,gl:["R3",585,1618]},
 {d:scatterC1,ax:592,fl:599,fr:1279,top:2304,bot:2988,fw:2.2,ly:[3015,2851,2684,2517,2346],lr:573,yl:"FITC",yx:439,yy:2666,z:[596,3062],o:[1241,3062],f:[927,3099],cut:1},
 {d:scatterC2,ax:1663,fl:1670,fr:2349,top:2303,bot:2988,fw:2.2,ly:[3002,2834,2666,2496,2325],lr:1629,yl:"FITC",yx:1503,yy:2652,z:[1664,3061],o:[2307,3061],f:[2011,3097],cut:1},
 {d:scatterC3,ax:2645,fl:2650,fr:3331,top:2303,bot:2988,fw:2.2,ly:[3016,2848,2678,2510,2341],lr:2610,yl:"FITC",yx:2483,yy:2663,z:[2647,3061],o:[3289,3061],f:[2994,3097],cut:1}
];
plots.forEach(p=>{
  const g=svg.append("g");
  const x=d3.scaleLinear().domain([0,1023]).range([p.ax,p.fr]);
  const y=d3.scaleLog().domain([1,1e4]).range([p.bot,p.top]);
  const cw=(p.fr-p.ax)/102.3, ch=(p.bot-p.top)/100;
  const pts=cells(p.d);
  const order={l:0,m:1,d:2};
  pts.sort((a,b)=>order[a.k]-order[b.k]);
  g.selectAll("rect").data(pts).join("rect")
    .attr("x",d=>x(d.fsc)-cw/2).attr("y",d=>y(d.ssc)-ch/2)
    .attr("width",d=>d.k==="d"?cw*0.96:cw+0.4).attr("height",d=>d.k==="d"?ch*0.96:ch+0.4)
    .attr("fill",d=>cellColor[d.k]);
  g.append("rect").attr("x",p.fl).attr("y",p.top).attr("width",p.fr-p.fl).attr("height",p.bot-p.top).attr("fill","none").attr("stroke","#000").attr("stroke-width",p.fw);
  const ax=g.append("g").attr("transform",`translate(0,${p.bot})`).call(d3.axisBottom(x).tickValues(d3.range(0,1023,40)).tickSize(8).tickSizeOuter(0).tickFormat(""));
  styleAxis(ax,2.2);
  const ay=g.append("g").attr("transform",`translate(${p.ax},0)`).call(d3.axisLeft(y).tickValues(y.ticks()).tickSize(5).tickSizeOuter(0).tickFormat(""));
  styleAxis(ay,2);
  const ayM=g.append("g").attr("transform",`translate(${p.ax},0)`).call(d3.axisLeft(y).tickValues(decades).tickSize(9).tickSizeOuter(0).tickFormat(""));
  styleAxis(ayM,2.4);
  if(p.gate){
    g.append("path").attr("d",d3.line().x(d=>x(d[0])).y(d=>y(d[1])).curve(d3.curveLinearClosed)(p.gate)).attr("fill","none").attr("stroke","#000").attr("stroke-width",1.8);
    txt(g,p.gl[1],p.gl[2],p.gl[0],{size:30,fill:"#222"});
  }
  if(p.cut){
    g.append("line").attr("x1",p.fl).attr("x2",p.fr).attr("y1",y(fitcCut)).attr("y2",y(fitcCut)).attr("stroke","#000").attr("stroke-width",2);
  }
  p.ly.forEach((b,n)=>pow10(g,p.lr,b,n,"end"));
  txt(g,p.yx,p.yy,p.yl,{rot:1});
  txt(g,p.z[0],p.z[1],"0");
  txt(g,p.o[0],p.o[1],"1023");
  txt(g,p.f[0],p.f[1],"FSC");
});

// ---------- panel C annotations ----------
const notesC=[
 ["0.0%",575,2260],["37˚C",934,2268],["48.5%",1345,2265],["48.5%",1043,2451],["0.0%",562,3137],["51.5%",1345,3137],["Immature DCs",945,3235],
 ["0.0%",1630,2255],["37˚C",2034,2268],["2.4%",2374,2268],["2.5%",2135,2450],["0.0%",1630,3136],["97.6%",2392,3136],["DCs/Ad661",2036,3234],
 ["0.0%",2610,2252],["4˚C",2984,2268],["1.6%",3336,2264],["1.6%",3119,2450],["0.0%",2610,3136],["98.4%",3354,3136],["Immature DCs",3014,3234]
];
const gn=svg.append("g");
notesC.forEach(n=>txt(gn,n[1],n[2],n[0]));
txt(gn,347,2677,"FITC-Dextran",{rot:1});
gn.append("path").attr("d","M328 2157 L356 2214 L300 2214 Z").attr("fill","#000");
gn.append("line").attr("x1",328).attr("x2",328).attr("y1",2210).attr("y2",2443).attr("stroke","#000").attr("stroke-width",4);
gn.append("line").attr("x1",328).attr("x2",328).attr("y1",2934).attr("y2",3141).attr("stroke","#000").attr("stroke-width",4);
[["A",31,80],["B",31,1170],["C",31,2170]].forEach(l=>txt(gn,l[1],l[2],l[0],{size:78,bold:1}));
</script></body></html>
